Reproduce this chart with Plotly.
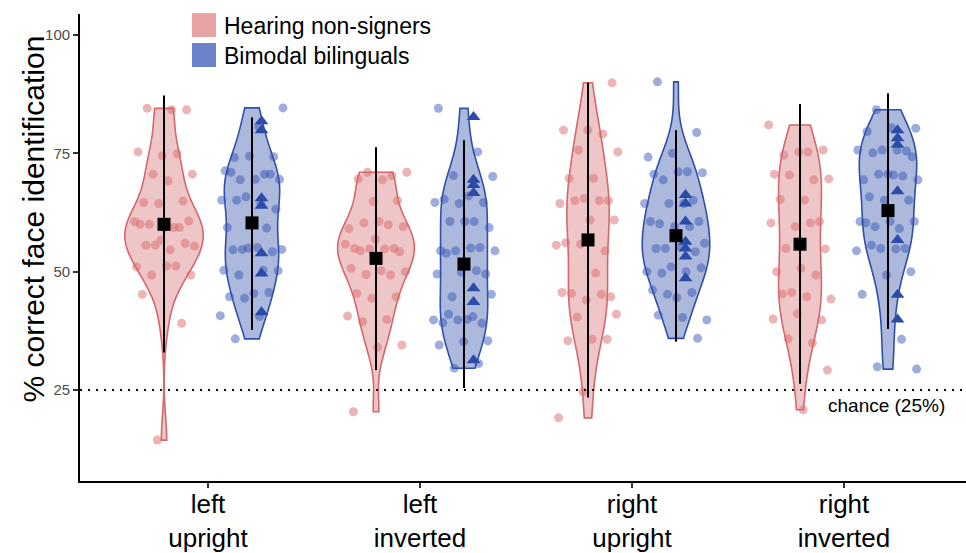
import numpy as np
import plotly.graph_objects as go

# ---------------- data ----------------
conditions = ["left<br>upright", "left<br>inverted", "right<br>upright", "right<br>inverted"]
group_names = ["Hearing non-signers", "Bimodal bilinguals"]

hearing_left_upright = [84.2, 84.5, 84.2, 74.5, 75.3, 74.9, 70.6, 70.6, 69.2, 64.6, 64.9, 64.4,
                        60.6, 59.3, 60.0, 60.7, 59.3, 60.0, 59.3, 55.6, 55.4, 54.6, 55.6, 56.0,
                        56.7, 51.0, 51.2, 49.3, 49.3, 51.2, 45.2, 39.1, 14.4]
hearing_left_inverted = [70.3, 71.0, 71.0, 69.4, 69.6, 65.0, 64.8, 59.1, 59.9, 60.3, 59.5, 60.6,
                         54.9, 54.9, 54.8, 55.8, 54.8, 54.4, 54.2, 56.9, 50.7, 49.3, 49.4, 50.0,
                         50.2, 45.4, 44.7, 44.4, 40.6, 39.9, 39.4, 34.5, 34.0, 20.4]
hearing_right_upright = [89.9, 79.9, 79.9, 79.1, 75.7, 75.3, 69.7, 69.7, 65.0, 65.5, 64.4, 65.0,
                         65.0, 60.9, 60.9, 56.1, 54.4, 55.8, 55.6, 49.7, 45.4, 44.7, 44.0, 45.6,
                         45.2, 40.4, 41.0, 35.7, 35.4, 35.7, 24.6, 19.1]
hearing_right_inverted = [81.0, 75.3, 74.6, 75.7, 75.3, 70.6, 69.4, 70.4, 69.6, 65.1, 65.3, 60.6,
                          59.5, 60.3, 60.3, 54.9, 54.8, 50.7, 50.0, 49.3, 45.6, 44.2, 44.7, 45.3,
                          39.8, 41.1, 40.0, 34.9, 35.8, 29.2, 20.8]

bimodal_left_upright = [84.6, 80.6, 74.1, 74.3, 74.4, 71.3, 70.6, 69.4, 69.5, 69.5, 71.0, 70.6,
                        65.8, 65.1, 64.4, 65.1, 63.2, 60.6, 59.3, 59.2, 54.7, 54.7, 55.1, 54.6,
                        54.2, 55.0, 50.3, 50.3, 49.3, 50.2, 45.4, 44.7, 45.6, 44.4, 40.7, 40.5, 35.8]
bimodal_left_inverted = [84.5, 75.3, 70.3, 70.1, 66.0, 65.3, 64.6, 64.4, 64.6, 60.6, 60.6, 59.3,
                         60.6, 54.4, 55.1, 54.4, 54.4, 55.0, 53.9, 49.5, 49.9, 49.5, 50.2, 44.7,
                         45.2, 39.9, 39.2, 39.1, 39.8, 39.8, 40.5, 41.0, 35.4, 35.2, 34.5, 30.6, 29.6]
bimodal_right_upright = [90.1, 79.4, 75.0, 74.2, 71.1, 69.4, 70.9, 71.1, 70.6, 65.1, 64.4, 64.4,
                         64.4, 60.1, 60.6, 59.5, 60.6, 59.5, 54.9, 56.0, 55.3, 54.9, 54.2, 51.0,
                         50.0, 50.0, 49.7, 50.8, 44.5, 46.1, 45.6, 45.2, 39.8, 40.3, 40.8, 35.9]
bimodal_right_inverted = [84.2, 80.3, 80.4, 79.6, 75.5, 75.7, 75.7, 75.7, 75.1, 74.3, 70.6, 69.4,
                          70.2, 70.6, 69.4, 70.4, 65.8, 65.1, 65.1, 60.6, 59.1, 59.5, 60.6, 60.6,
                          60.3, 54.9, 54.9, 54.4, 54.8, 55.6, 50.0, 49.3, 45.2, 35.7, 29.9, 29.4]

# bimodal bilingual subgroup drawn as triangles
subgroup_left_upright = [81.8, 79.9, 65.5, 63.9, 53.9, 49.6, 41.4]
subgroup_left_inverted = [82.7, 69.4, 68.3, 66.6, 46.5, 43.6, 31.3]
subgroup_right_upright = [66.2, 64.4, 60.6, 56.3, 54.9, 53.2, 48.6]
subgroup_right_inverted = [79.9, 78.2, 76.8, 67.0, 56.7, 45.1, 39.9]

hearing_means = [60.0, 52.8, 56.7, 55.8]
hearing_lower = [32.9, 29.2, 23.4, 26.3]
hearing_upper = [87.2, 76.3, 89.9, 85.4]
bimodal_means = [60.3, 51.6, 57.6, 62.9]
bimodal_lower = [37.7, 25.4, 35.2, 37.9]
bimodal_upper = [82.6, 77.8, 79.9, 87.7]

chance_level = 25
chance_label = "chance (25%)"
y_ticks = [25, 50, 75, 100]

hearing_sets = [hearing_left_upright, hearing_left_inverted, hearing_right_upright, hearing_right_inverted]
bimodal_sets = [bimodal_left_upright, bimodal_left_inverted, bimodal_right_upright, bimodal_right_inverted]
subgroup_sets = [subgroup_left_upright, subgroup_left_inverted, subgroup_right_upright, subgroup_right_inverted]

# ---------------- styling ----------------
FONT = "Liberation Sans, Arial, Helvetica, sans-serif"
PINK_LINE = "#D4686B"
PINK_FILL = "rgba(214,104,107,0.38)"
PINK_PT = "rgba(218,106,110,0.50)"
BLUE_LINE = "#2F4FAA"
BLUE_FILL = "rgba(47,79,170,0.40)"
BLUE_PT = "rgba(52,84,180,0.48)"
TRI = "#2B4BA8"

DODGE = 0.2075
JIT = 0.15
TRI_OFF = 0.045
VIOLIN_W = 0.37   # width of the violin with the highest density peak

positions = np.arange(1, len(conditions) + 1)


def nrd0(v):
    v = np.asarray(v, float)
    sd = np.std(v, ddof=1)
    iqr = np.subtract(*np.percentile(v, [75, 25]))
    lo = min(sd, iqr / 1.34) if iqr > 0 else sd
    return 0.9 * lo * len(v) ** -0.2


def peak_density(v):
    v = np.asarray(v, float)
    bw = nrd0(v)
    grid = np.linspace(v.min(), v.max(), 512)
    d = np.exp(-0.5 * ((grid[:, None] - v[None, :]) / bw) ** 2).sum(1) / (len(v) * bw * np.sqrt(2 * np.pi))
    return d.max()


def jitter(n, phase):
    g = 0.6180339887
    return np.array([(((i + 1) * g + phase) % 1.0 - 0.5) * 2 * JIT for i in range(n)])


violin_specs = []
for k, pos in enumerate(positions):
    violin_specs.append((pos - DODGE, hearing_sets[k], PINK_LINE, PINK_FILL))
    violin_specs.append((pos + DODGE, bimodal_sets[k] + subgroup_sets[k], BLUE_LINE, BLUE_FILL))
peaks = [peak_density(v) for _, v, _, _ in violin_specs]
pmax = max(peaks)

fig = go.Figure()

# violins (area scaling: width proportional to each violin's density peak)
for i, ((xpos, vals, lc, fc), pk) in enumerate(zip(violin_specs, peaks)):
    fig.add_trace(go.Violin(
        x=[xpos] * len(vals), y=vals,
        width=VIOLIN_W * pk / pmax, scalegroup="v%d" % i, scalemode="width",
        spanmode="hard", bandwidth=nrd0(vals),
        points=False, box_visible=False, meanline_visible=False,
        line=dict(color=lc, width=1.6), fillcolor=fc,
        hoverinfo="skip", showlegend=False, orientation="v",
    ))

# jittered points
for k, pos in enumerate(positions):
    h = hearing_sets[k]
    fig.add_trace(go.Scatter(
        x=pos - DODGE + jitter(len(h), 0.13 * k), y=h, mode="markers",
        marker=dict(color=PINK_PT, size=9, line=dict(width=0)),
        showlegend=False, hoverinfo="skip"))
    b = bimodal_sets[k]
    fig.add_trace(go.Scatter(
        x=pos + DODGE + jitter(len(b), 0.37 + 0.11 * k), y=b, mode="markers",
        marker=dict(color=BLUE_PT, size=9, line=dict(width=0)),
        showlegend=False, hoverinfo="skip"))
    s = subgroup_sets[k]
    fig.add_trace(go.Scatter(
        x=[pos + DODGE + TRI_OFF] * len(s), y=s, mode="markers",
        marker=dict(color=TRI, size=12, symbol="triangle-up", line=dict(width=0)),
        showlegend=False, hoverinfo="skip"))

# error lines
ex, ey = [], []
for k, pos in enumerate(positions):
    ex += [pos - DODGE, pos - DODGE, None, pos + DODGE, pos + DODGE, None]
    ey += [hearing_lower[k], hearing_upper[k], None, bimodal_lower[k], bimodal_upper[k], None]
fig.add_trace(go.Scatter(x=ex, y=ey, mode="lines", line=dict(color="black", width=2),
                         showlegend=False, hoverinfo="skip"))

# means
fig.add_trace(go.Scatter(
    x=list(positions - DODGE) + list(positions + DODGE),
    y=hearing_means + bimodal_means, mode="markers",
    marker=dict(symbol="square", size=13, color="black"),
    showlegend=False, hoverinfo="skip"))

# chance line
fig.add_shape(type="line", xref="paper", x0=0, x1=1, yref="y", y0=chance_level, y1=chance_level,
              line=dict(color="black", width=2, dash="2px,6px"), layer="above")
fig.add_annotation(x=4.2, y=21.8, xref="x", yref="y", text=chance_label, showarrow=False,
                   font=dict(family=FONT, size=19, color="black"), xanchor="center", yanchor="middle")

# y title
fig.add_annotation(x=-0.053, y=0.56, xref="paper", yref="paper", text="% correct face identification",
                   textangle=-90, showarrow=False, font=dict(family=FONT, size=30, color="black"),
                   xanchor="center", yanchor="middle")

# custom legend
leg = [(group_names[0], "#E8A3A5", 1.002, 0.9507, 0.9743),
       (group_names[1], "#6A83CB", 0.9379, 0.8865, 0.9101)]
for name, col, y1, y0, yt in leg:
    fig.add_shape(type="rect", xref="paper", yref="paper", x0=0.1264, x1=0.1535, y0=y0, y1=y1,
                  fillcolor=col, line=dict(width=0))
    fig.add_annotation(x=0.1603, y=yt, xref="paper", yref="paper", text=name, showarrow=False,
                       font=dict(family=FONT, size=23, color="black"), xanchor="left", yanchor="middle")

fig.update_layout(
    template="none",
    width=966, height=553,
    margin=dict(l=80, r=0, t=14, b=72, autoexpand=False),
    paper_bgcolor="white", plot_bgcolor="white",
    violinmode="overlay", showlegend=False,
    xaxis=dict(range=[0.3962, 4.5755], tickvals=list(positions), ticktext=conditions,
               automargin=False, ticklabelstandoff=-6,
               showgrid=False, zeroline=False, showline=True, linecolor="black", linewidth=1.8,
               ticks="outside", ticklen=5, tickwidth=1.5, tickcolor="#333",
               tickfont=dict(family=FONT, size=26, color="black")),
    yaxis=dict(range=[5.76, 104.44], tickvals=y_ticks, showgrid=False, zeroline=False,
               automargin=False,
               showline=True, linecolor="black", linewidth=1.8,
               ticks="outside", ticklen=5, tickwidth=1.5, tickcolor="#333",
               tickfont=dict(family=FONT, size=15, color="#4D4D4D")),
)

fig.write_html("out.html")
